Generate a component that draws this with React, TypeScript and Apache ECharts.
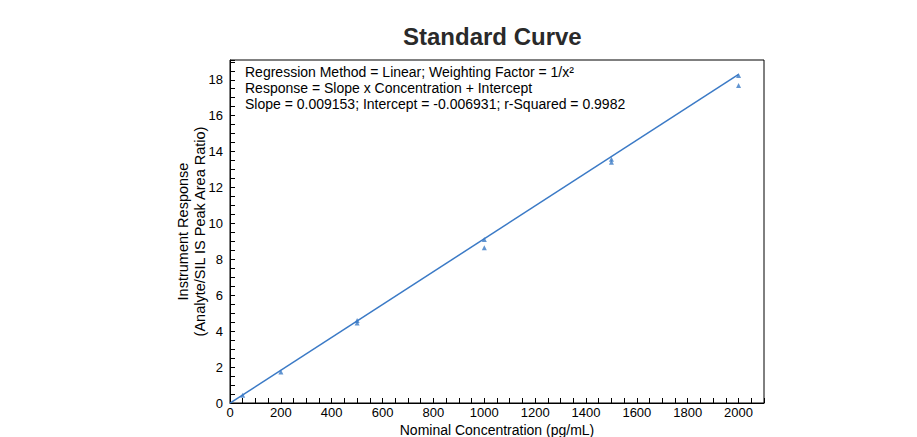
import React, { useEffect, useRef } from "react";
import * as echarts from "echarts";

const concentrations = [50, 200, 500, 500, 1000, 1000, 1500, 1500, 2000, 2000];
const responses = [0.43, 1.73, 4.45, 4.6, 9.1, 8.65, 13.58, 13.4, 18.24, 17.68];
const slope = 0.009153;
const intercept = -0.006931;
const fitRange = [0, 2000];
const annotationLines = [
  "Regression Method = Linear; Weighting Factor = 1/x²",
  "Response = Slope x Concentration + Intercept",
  "Slope = 0.009153; Intercept = -0.006931; r-Squared = 0.9982",
];

export default function App() {
  const ref = useRef<HTMLDivElement>(null);
  useEffect(() => {
    if (!ref.current) return;
    const chart = echarts.init(ref.current, null, { renderer: "svg" });
    const font = "'Liberation Sans', Arial, sans-serif";
    const blue = "#3b7ac6";
    chart.setOption({
      animation: false,
      backgroundColor: "#fff",
      title: {
        text: "Standard Curve",
        left: 398,
        top: 19,
        textStyle: { fontFamily: font, fontSize: 24, fontWeight: "bold", color: "#2a2a2a" },
      },
      grid: {
        left: 230,
        right: 153,
        top: 60,
        bottom: 34,
        show: true,
        borderColor: "#000",
        borderWidth: 1,
        containLabel: false,
        outerBoundsMode: "none",
      },
      xAxis: {
        type: "value",
        min: 0,
        max: 2100,
        interval: 200,
        name: "Nominal Concentration (pg/mL)",
        nameLocation: "middle",
        nameGap: 20,
        nameMoveOverlap: false,
        nameTextStyle: { fontFamily: font, fontSize: 14, color: "#000" },
        axisLine: { show: true, onZero: false, lineStyle: { color: "#000", width: 1 } },
        axisTick: { show: true, inside: true, length: 5, lineStyle: { color: "#000" } },
        minorTick: { show: true, splitNumber: 4, length: 5, lineStyle: { color: "#000" } },
        splitLine: { show: false },
        axisLabel: {
          fontFamily: font,
          fontSize: 13,
          color: "#000",
          margin: 3,
          showMaxLabel: false,
          formatter: (v: number) => String(v),
        },
      },
      yAxis: {
        type: "value",
        min: 0,
        max: 19.1,
        interval: 2,
        name: "Instrument Response\n(Analyte/SIL IS Peak Area Ratio)",
        nameLocation: "middle",
        nameGap: 22,
        nameMoveOverlap: false,
        nameTextStyle: { fontFamily: font, fontSize: 14.5, color: "#000", lineHeight: 17 },
        axisLine: { show: true, onZero: false, lineStyle: { color: "#000", width: 1 } },
        axisTick: { show: true, inside: true, length: 5, lineStyle: { color: "#000" } },
        minorTick: { show: true, splitNumber: 4, length: 5, lineStyle: { color: "#000" } },
        splitLine: { show: false },
        axisLabel: {
          fontFamily: font,
          fontSize: 13,
          color: "#000",
          margin: 7,
          showMaxLabel: false,
          formatter: (v: number) => String(v),
        },
      },
      graphic: annotationLines.map((t, i) => ({
        type: "text",
        left: 245,
        top: 65 + i * 16,
        style: { text: t, fontFamily: font, fontSize: 14, fill: "#000" },
        z: 10,
      })),
      series: [
        {
          type: "line",
          data: fitRange.map((x) => [x, slope * x + intercept]),
          showSymbol: false,
          lineStyle: { color: blue, width: 1.5 },
          z: 2,
        },
        {
          type: "scatter",
          data: concentrations.map((c, i) => [c, responses[i]]),
          symbol: "triangle",
          symbolSize: 5,
          itemStyle: { color: blue },
          z: 3,
        },
      ],
    });
    return () => chart.dispose();
  }, []);
  return (
    <div
      ref={ref}
      style={{ position: "fixed", left: 0, top: 0, width: 917, height: 437 }}
    />
  );
}
